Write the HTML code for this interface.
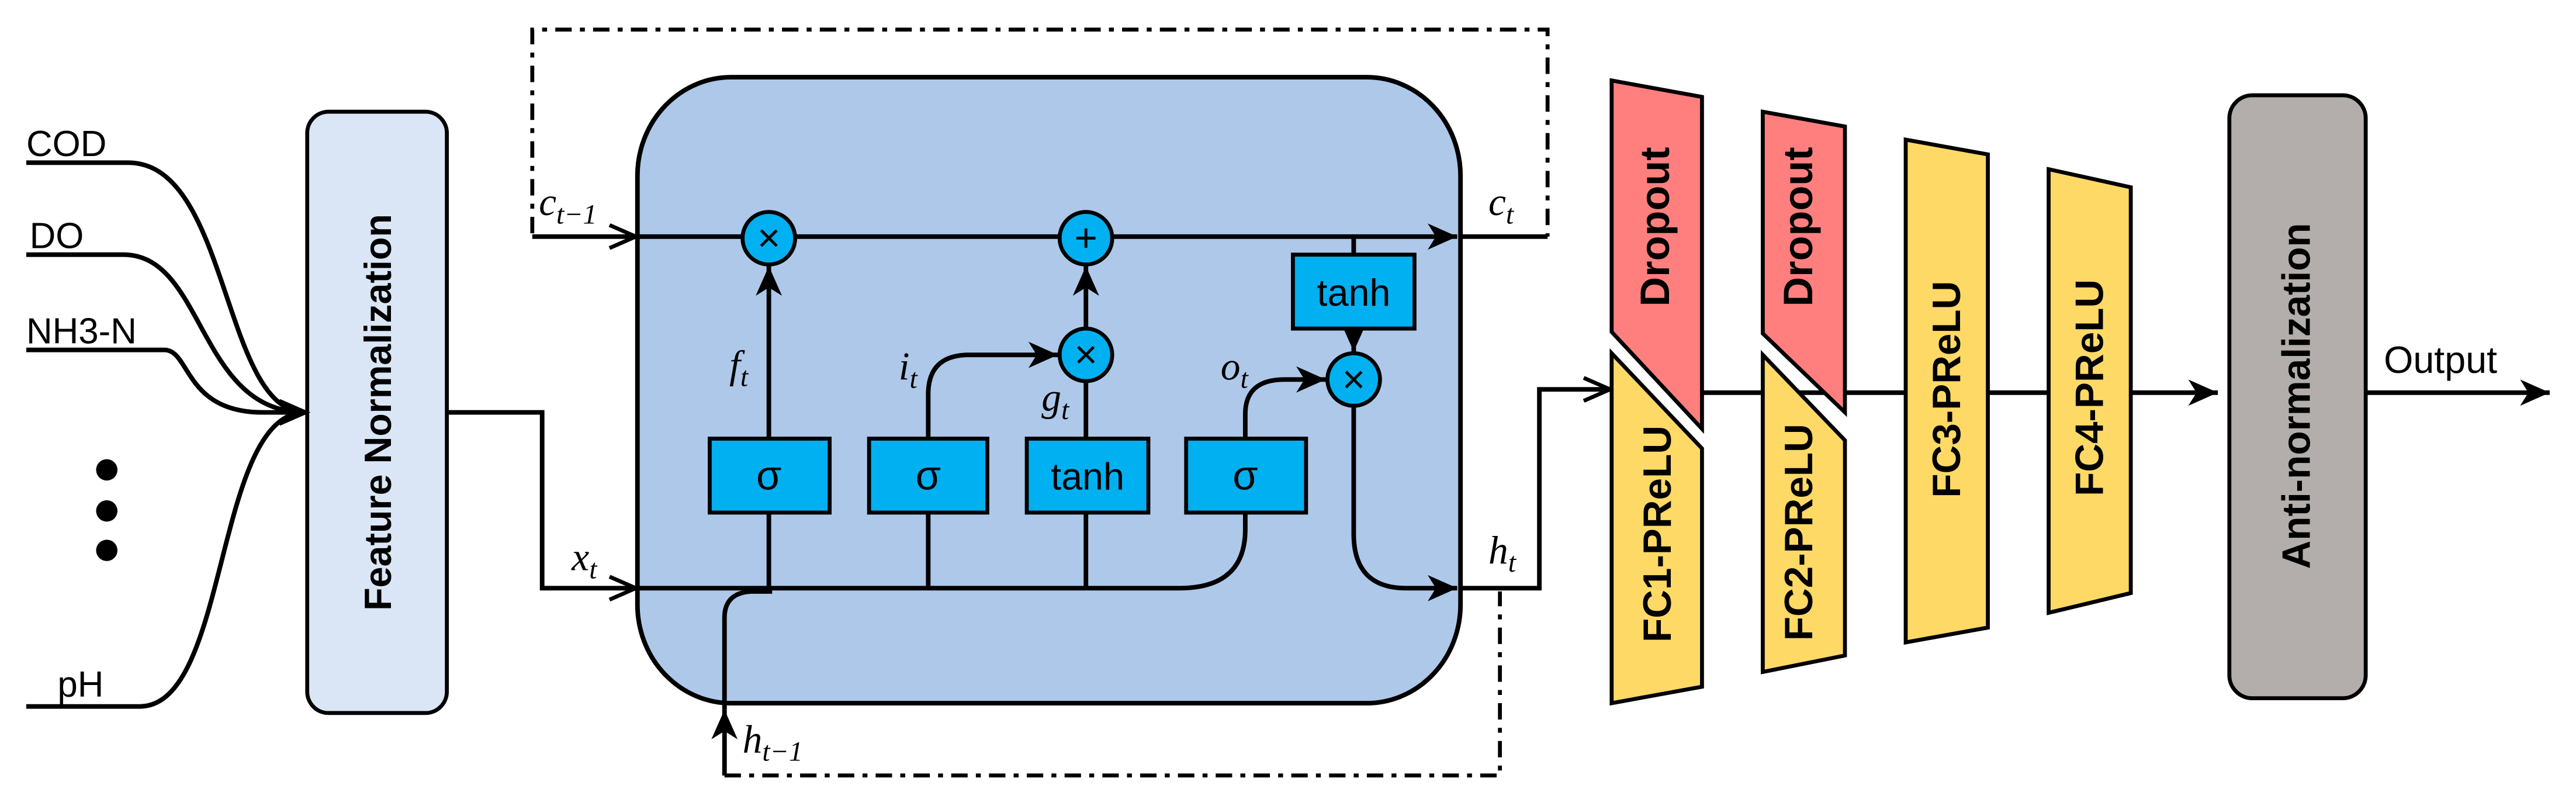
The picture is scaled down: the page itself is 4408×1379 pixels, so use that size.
<!DOCTYPE html>
<html><head><meta charset="utf-8"><style>
html,body{margin:0;padding:0;background:#fff;}
svg{display:block;}
.s{font-family:"Liberation Sans",sans-serif;}
.b{font-family:"Liberation Sans",sans-serif;font-weight:bold;}
.m{font-family:"Liberation Serif",serif;font-style:italic;}
</style></head><body>
<svg width="4408" height="1379" viewBox="0 0 1568 490.6" preserveAspectRatio="none" xmlns="http://www.w3.org/2000/svg">
<defs>
<marker id="a" markerUnits="userSpaceOnUse" markerWidth="22" markerHeight="16" refX="18" refY="8" orient="auto">
<path d="M0,0 L18,8 L0,16 L5,8 Z" fill="#000"/>
</marker>
<marker id="o" markerUnits="userSpaceOnUse" markerWidth="22" markerHeight="16" refX="18" refY="8" orient="auto">
<path d="M2,1 L18,8 L2,15" fill="none" stroke="#000" stroke-width="2.4"/>
</marker>
</defs>
<g fill="none" stroke="#000" stroke-width="2.4">
<path d="M324,142 L324,18 L942,18 L942,144" stroke-dasharray="10,5,3,5"/>
<path d="M441,472 L913,472 L913,360" stroke-dasharray="10,5,3,5"/>
</g>
<rect x="388" y="47" width="501" height="381" rx="57" ry="60" fill="#aec8e9" stroke="#000" stroke-width="2.8"/>
<rect x="187" y="68" width="85" height="366" rx="13" fill="#dae6f5" stroke="#000" stroke-width="2.4"/>
<text class="b" font-size="23" transform="translate(238,251) rotate(-90)" text-anchor="middle">Feature Normalization</text>
<g fill="none" stroke="#000" stroke-width="2.8">
<path d="M16,99 L78,99 C140,99 135,251 186,251"/>
<path d="M16,155 L75,155 C125,155 120,251 186,251"/>
<path d="M16,213 L100,213 C116,213 112,251 160,251 L186,251"/>
<path d="M16,430 L85,430 C140,430 130,251 186,251" marker-end="url(#o)"/>
<path d="M272,251 L330,251 L330,358 L387,358" marker-end="url(#o)"/>
<path d="M388,358 L718,358"/>
<path d="M324,144 L387,144" marker-end="url(#o)"/>
<path d="M388,144 L887,144" marker-end="url(#a)"/>
<path d="M888,144 L942,144"/>
<path d="M468,358 L468,312 M565,358 L565,312 M661,358 L661,312"/>
<path d="M468,267 L468,162" marker-end="url(#a)"/>
<path d="M565,267 L565,240 Q565,216 590,216 L644,216" marker-end="url(#a)"/>
<path d="M661,267 L661,232"/>
<path d="M661,200 L661,162" marker-end="url(#a)"/>
<path d="M758,312 L758,322 Q758,358 718,358"/>
<path d="M758,267 L758,252 Q758,231 782,231 L807,231" marker-end="url(#a)"/>
<path d="M824,144 L824,155"/>
<path d="M824,200 L824,214" marker-end="url(#a)"/>
<path d="M824,247 L824,325 Q824,358 856,358 L887,358" marker-end="url(#a)"/>
<path d="M441,472 L441,432" marker-end="url(#a)"/>
<path d="M441,432 L441,376 Q441,361 457,360 L470,360"/>
<path d="M888,358 L937,358 L937,237 L980,237" marker-end="url(#o)"/>
<path d="M1036,239 L1350,239" marker-end="url(#a)"/>
<path d="M1440,239 L1552,239" marker-end="url(#a)"/>
</g>
<g stroke="#000" stroke-width="2.4" fill="#00b0f0">
<circle cx="468" cy="145" r="16"/>
<circle cx="661" cy="145" r="16"/>
<circle cx="661" cy="216" r="16"/>
<circle cx="824" cy="231" r="16"/>
</g>
<g class="s" font-size="24" text-anchor="middle" fill="#000">
<text x="468" y="153">×</text><text x="661" y="153">+</text>
<text x="661" y="224">×</text><text x="824" y="239">×</text>
</g>
<g stroke="#000" stroke-width="2.4" fill="#00b0f0">
<rect x="432" y="267" width="73" height="45"/>
<rect x="529" y="267" width="72" height="45"/>
<rect x="625" y="267" width="74" height="45"/>
<rect x="722" y="267" width="73" height="45"/>
<rect x="787" y="155" width="74" height="45"/>
</g>
<g class="s" font-size="25" text-anchor="middle">
<text x="468" y="298">σ</text><text x="565" y="298">σ</text>
<text x="662" y="298" font-size="23">tanh</text><text x="758" y="298">σ</text>
<text x="824" y="186" font-size="23">tanh</text>
</g>
<g class="m" font-size="24">
<text x="328" y="131">c<tspan font-size="17" dy="5">t−1</tspan></text>
<text x="906" y="131">c<tspan font-size="17" dy="5">t</tspan></text>
<text x="906" y="343">h<tspan font-size="17" dy="5">t</tspan></text>
<text x="348" y="347">x<tspan font-size="17" dy="5">t</tspan></text>
<text x="452" y="458">h<tspan font-size="17" dy="5">t−1</tspan></text>
<text x="444" y="230">f<tspan font-size="17" dy="5">t</tspan></text>
<text x="547" y="231">i<tspan font-size="17" dy="5">t</tspan></text>
<text x="634" y="250">g<tspan font-size="17" dy="5">t</tspan></text>
<text x="743" y="231">o<tspan font-size="17" dy="5">t</tspan></text>
</g>
<g class="s" font-size="22">
<text x="16" y="95">COD</text><text x="18" y="151">DO</text>
<text x="16" y="209">NH3-N</text><text x="35" y="424">pH</text>
</g>
<circle cx="65" cy="286" r="6.5"/><circle cx="65" cy="311" r="6.5"/><circle cx="65" cy="335" r="6.5"/>
<g stroke="#000" stroke-width="2.4">
<polygon points="981,49 1036,59 1036,261 981,202" fill="#ff7f7f"/>
<polygon points="981,215 1036,273 1036,418 981,428" fill="#ffd966"/>
<polygon points="1073,68 1123,77 1123,251 1073,203" fill="#ff7f7f"/>
<polygon points="1073,216 1123,268 1123,399 1073,409" fill="#ffd966"/>
<polygon points="1160,85 1210,94 1210,382 1160,391" fill="#ffd966"/>
<polygon points="1247,103 1297,114 1297,361 1247,373" fill="#ffd966"/>
</g>
<rect x="1357" y="58" width="83" height="367" rx="14" fill="#b3aeab" stroke="#000" stroke-width="2.4"/>
<g class="b" font-size="25" text-anchor="middle">
<text transform="translate(1016,138) rotate(-90)">Dropout</text>
<text transform="translate(1103,138) rotate(-90)">Dropout</text>
<text transform="translate(1017,325) rotate(-90)" font-size="24">FC1-PReLU</text>
<text transform="translate(1103,324) rotate(-90)" font-size="24">FC2-PReLU</text>
<text transform="translate(1193,237) rotate(-90)" font-size="24">FC3-PReLU</text>
<text transform="translate(1280,236) rotate(-90)" font-size="24">FC4-PReLU</text>
<text transform="translate(1406,241) rotate(-90)" font-size="24">Anti-normalization</text>
</g>
<text class="s" x="1451" y="227" font-size="23">Output</text>
</svg>
</body></html>
